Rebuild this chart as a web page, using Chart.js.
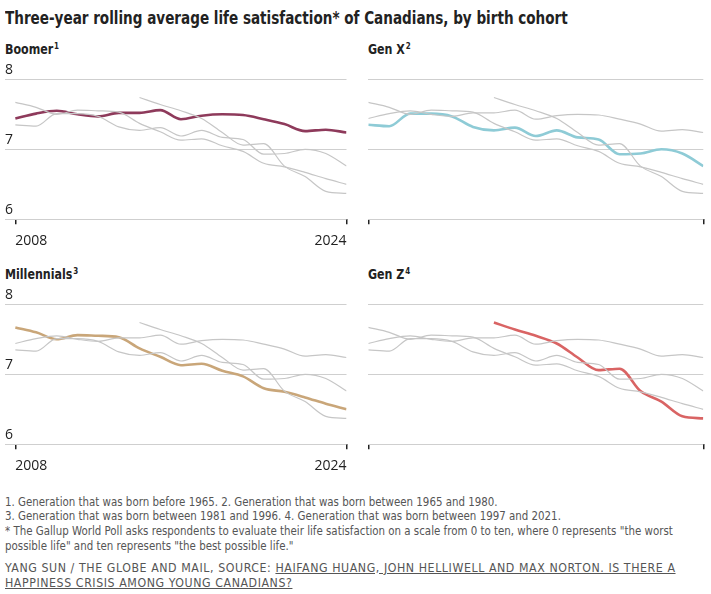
<!DOCTYPE html>
<html><head><meta charset="utf-8">
<script src="https://cdn.jsdelivr.net/npm/chart.js@4/dist/chart.umd.min.js"></script>
<style>
html,body{margin:0;padding:0;}
body{width:711px;height:594px;background:#fff;position:relative;overflow:hidden;font-family:"DejaVu Sans Condensed","Liberation Sans Narrow",sans-serif;color:#222;}
.sx{position:absolute;white-space:nowrap;transform-origin:0 0;}
.title{left:5px;top:9px;font-weight:bold;font-size:18px;line-height:18px;transform:scaleX(0.837);}
.ptitle{font-weight:bold;font-size:14px;line-height:14px;transform:scaleX(0.88);}
.ptitle sup{font-size:9px;vertical-align:5px;line-height:0;margin-left:1px;}
canvas{position:absolute;}
.notes{left:5px;top:494.5px;font-size:13px;line-height:14.7px;color:#555;transform:scaleX(0.877);}
.src{left:5px;top:559.7px;font-size:13px;line-height:15px;color:#555;letter-spacing:0.6px;transform:scaleX(0.944);}
.src u{text-decoration:underline;}
</style>
</head><body>
<div class="sx title">Three-year rolling average life satisfaction* of Canadians, by birth cohort</div>
<div class="sx ptitle" style="left:5px;top:41.5px">Boomer<sup>1</sup></div>
<div class="sx ptitle" style="left:368px;top:41.5px">Gen X<sup>2</sup></div>
<div class="sx ptitle" style="left:5px;top:266.5px">Millennials<sup>3</sup></div>
<div class="sx ptitle" style="left:368px;top:266.5px">Gen Z<sup>4</sup></div>
<canvas id="c0"></canvas>
<canvas id="c1"></canvas>
<canvas id="c2"></canvas>
<canvas id="c3"></canvas>
<div class="sx notes">1. Generation that was born before 1965. 2. Generation that was born between 1965 and 1980.<br>3. Generation that was born between 1981 and 1996. 4. Generation that was born between 1997 and 2021.<br>* The Gallup World Poll asks respondents to evaluate their life satisfaction on a scale from 0 to ten, where 0 represents "the worst<br>possible life" and ten represents "the best possible life."</div>
<div class="sx src">YANG SUN / THE GLOBE AND MAIL, SOURCE: <u>HAIFANG HUANG, JOHN HELLIWELL AND MAX NORTON. IS THERE A</u><br><u>HAPPINESS CRISIS AMONG YOUNG CANADIANS?</u></div>
<script>
// ---- data ----
const years = [2008,2009,2010,2011,2012,2013,2014,2015,2016,2017,2018,2019,2020,2021,2022,2023,2024];
const boomer      = [7.44,7.51,7.55,7.50,7.47,7.52,7.52,7.56,7.43,7.48,7.50,7.49,7.43,7.36,7.26,7.28,7.24];
const genX        = [7.35,7.33,7.51,7.51,7.47,7.32,7.27,7.31,7.19,7.27,7.17,7.14,6.93,6.94,7.00,6.94,6.76];
const millennials = [7.67,7.60,7.50,7.56,7.55,7.53,7.37,7.25,7.13,7.15,7.05,6.97,6.80,6.75,6.67,6.58,6.50];
const genZ        = [null,null,null,null,null,null,7.74,7.64,7.55,7.44,7.24,7.06,7.08,6.76,6.61,6.40,6.37];
const cohortNames = ["Boomer","Gen X","Millennials","Gen Z"];
const yTicks = [6,7,8];
const xTickYears = [2008,2024];

const series = [boomer, genX, millennials, genZ];
const colors = ["#8e3a5b","#8ecbd6","#c9a679","#d96464"];
const GRAY = "#c6c6c6";

function pts(vals){ return years.map((y,i)=>({x:y,y:vals[i]})); }

// panel geometry
const panels = [
  {left:0,   top:58,  w:355, left_pad:5,    right_pad:3.3, xmin:2007.5, labels:true},
  {left:355, top:58,  w:356, left_pad:13.3, right_pad:7.7, xmin:2008,   labels:false},
  {left:0,   top:283, w:355, left_pad:5,    right_pad:3.3, xmin:2007.5, labels:true},
  {left:355, top:283, w:356, left_pad:13.3, right_pad:7.7, xmin:2008,   labels:false}
];
const H = 200, TOPPAD = 21.3, AREA = 140, XH = 30;

panels.forEach((p, k) => {
  const cv = document.getElementById('c'+k);
  cv.width = p.w; cv.height = H;
  cv.style.left = p.left+'px'; cv.style.top = p.top+'px';
  cv.style.width = p.w+'px'; cv.style.height = H+'px';
  const ds = [];
  series.forEach((s, j) => {
    if (j === k) return;
    ds.push({label:cohortNames[j], data:pts(s), borderColor:GRAY, borderWidth:1.2, pointRadius:0, cubicInterpolationMode:'monotone', fill:false});
  });
  ds.push({label:cohortNames[k], data:pts(series[k]), borderColor:colors[k], borderWidth:2.6, pointRadius:0, cubicInterpolationMode:'monotone', fill:false});
  new Chart(cv, {
    type:'line',
    data:{datasets:ds},
    options:{
      responsive:false, animation:false, events:[],
      layout:{padding:{left:p.left_pad, right:p.right_pad, top:TOPPAD, bottom:H-TOPPAD-AREA-XH}},
      plugins:{legend:{display:false}, tooltip:{enabled:false}},
      scales:{
        x:{type:'linear', min:p.xmin, max:2024,
           afterBuildTicks:s=>{ s.ticks = xTickYears.map(v=>({value:v})); },
           afterFit:s=>{ s.height = XH; },
           border:{display:false},
           grid:{display:true, drawOnChartArea:false, drawTicks:true, tickLength:5, color:'#222', lineWidth:1.5},
           ticks:{display:p.labels, align:'inner', maxRotation:0, autoSkip:false, padding:8.5,
                  color:'#222', font:{family:'"Open Sans", sans-serif', size:14},
                  callback:v=>String(v)}
        },
        y:{type:'linear', min:6, max:8,
           afterBuildTicks:s=>{ s.ticks = yTicks.map(v=>({value:v})); },
           afterFit:s=>{ s.width = 0; },
           border:{display:false},
           grid:{color:'#cfcfcf', lineWidth:1, drawTicks:false},
           ticks:{display:p.labels, mirror:true, padding:0, labelOffset:-9.5,
                  color:'#222', font:{family:'"Open Sans", sans-serif', size:14},
                  callback:v=>String(v)}
        }
      }
    }
  });
});
</script>
</body></html>
